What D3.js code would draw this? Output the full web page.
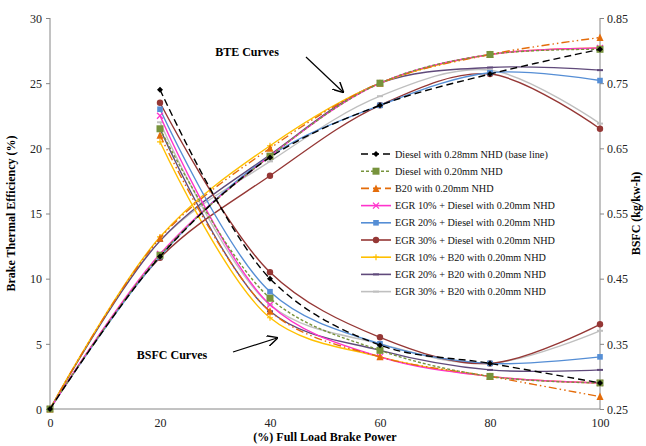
<!DOCTYPE html>
<html>
<head>
<meta charset="utf-8">
<script src="https://cdn.jsdelivr.net/npm/d3@7"></script>
<style>
  body { margin: 0; background: #fff; }
  svg text { font-family: "Times New Roman", "Liberation Serif", Tinos, Times, serif; }
  .axis path, .axis line { stroke: #868686; }
  .axis text { font-size: 12px; fill: #222; }
</style>
</head>
<body>
<svg width="646" height="446"></svg>
<script>
// load points (% full load)
var bteLoads = [0, 20, 40, 60, 80, 100];
var bsfcLoads = [20, 40, 60, 80, 100];

var seriesNames = [
  "Diesel with 0.28mm NHD (base line)",
  "Diesel with 0.20mm NHD",
  "B20 with 0.20mm NHD",
  "EGR 10% + Diesel with 0.20mm NHD",
  "EGR 20% + Diesel with 0.20mm NHD",
  "EGR 30% + Diesel with 0.20mm NHD",
  "EGR 10% + B20 with 0.20mm NHD",
  "EGR 20% + B20 with 0.20mm NHD",
  "EGR 30% + B20 with 0.20mm NHD"
];

// Brake thermal efficiency (%)
var bteDiesel028  = [0, 11.7, 19.3, 23.3, 25.7, 27.6];
var bteDiesel020  = [0, 11.8, 19.4, 25.0, 27.2, 27.6];
var bteB20        = [0, 13.1, 20.0, 25.0, 27.2, 28.5];
var bteEgr10D     = [0, 11.9, 19.4, 25.0, 27.2, 27.7];
var bteEgr20D     = [0, 11.7, 19.4, 23.3, 25.8, 25.2];
var bteEgr30D     = [0, 11.6, 17.9, 23.3, 25.7, 21.5];
var bteEgr10B     = [0, 13.2, 20.2, 25.0, 27.2, 27.7];
var bteEgr20B     = [0, 12.9, 19.5, 25.0, 26.2, 26.0];
var bteEgr30B     = [0, 12.9, 19.0, 24.0, 26.0, 21.9];

// BSFC (kg/kw-h)
var bsfcDiesel028 = [0.74, 0.45, 0.348, 0.32, 0.29];
var bsfcDiesel020 = [0.68, 0.42, 0.34, 0.30, 0.29];
var bsfcB20       = [0.67, 0.40, 0.33, 0.30, 0.269];
var bsfcEgr10D    = [0.70, 0.41, 0.33, 0.30, 0.29];
var bsfcEgr20D    = [0.71, 0.43, 0.35, 0.32, 0.33];
var bsfcEgr30D    = [0.72, 0.46, 0.36, 0.32, 0.38];
var bsfcEgr10B    = [0.66, 0.39, 0.33, 0.30, 0.29];
var bsfcEgr20B    = [0.68, 0.40, 0.34, 0.31, 0.31];
var bsfcEgr30B    = [0.69, 0.41, 0.35, 0.32, 0.37];

var xTicks = [0, 20, 40, 60, 80, 100];
var bteTicks = [0, 5, 10, 15, 20, 25, 30];
var bsfcTicks = [0.25, 0.35, 0.45, 0.55, 0.65, 0.75, 0.85];

var bteAll = [bteDiesel028, bteDiesel020, bteB20, bteEgr10D, bteEgr20D, bteEgr30D, bteEgr10B, bteEgr20B, bteEgr30B];
var bsfcAll = [bsfcDiesel028, bsfcDiesel020, bsfcB20, bsfcEgr10D, bsfcEgr20D, bsfcEgr30D, bsfcEgr10B, bsfcEgr20B, bsfcEgr30B];

var styles = [
  {color: "#000000", dash: "7,4",         legendDash: "7,4", marker: "diamond", size: 3},
  {color: "#77933C", dash: "3,2",         legendDash: "3,2", marker: "square",  size: 3.5},
  {color: "#E46C0A", dash: "8,3,1.5,3,1.5,3", legendDash: "8,4", marker: "triangle", size: 3.5},
  {color: "#FF33CC", dash: null, legendDash: null, marker: "x",      size: 3},
  {color: "#558ED5", dash: null, legendDash: null, marker: "square", size: 2.8},
  {color: "#953735", dash: null, legendDash: null, marker: "circle", size: 3.2},
  {color: "#FFC000", dash: null, legendDash: null, marker: "plus",   size: 3},
  {color: "#604A7B", dash: null, legendDash: null, marker: "dash",   size: 3},
  {color: "#BFBFBF", dash: null, legendDash: null, marker: "dash",   size: 3}
];

var svg = d3.select("svg"),
    margin = {top: 18, right: 46, bottom: 37, left: 50},
    width = +svg.attr("width") - margin.left - margin.right,
    height = +svg.attr("height") - margin.top - margin.bottom,
    g = svg.append("g").attr("transform", "translate(" + margin.left + "," + margin.top + ")");

var x = d3.scaleLinear().domain([0, 100]).range([0, width]);
var yL = d3.scaleLinear().domain([0, 30]).range([height, 0]);
var yR = d3.scaleLinear().domain([0.25, 0.85]).range([height, 0]);

// axes
var gx = g.append("g").attr("class", "axis")
    .attr("transform", "translate(0," + height + ")")
    .call(d3.axisBottom(x).tickValues(xTicks).tickSize(0).tickPadding(9));
var gl = g.append("g").attr("class", "axis")
    .call(d3.axisLeft(yL).tickValues(bteTicks).tickSize(4).tickPadding(4));
var gr = g.append("g").attr("class", "axis")
    .attr("transform", "translate(" + width + ",0)")
    .call(d3.axisRight(yR).tickValues(bsfcTicks).tickFormat(d3.format(".2f")).tickSize(4).tickPadding(3));
gl.select(".domain").attr("d", "M0,0V" + height);
gr.select(".domain").attr("d", "M0,0V" + height);
gx.select(".domain").attr("d", "M0,0H" + width);
svg.selectAll(".axis").attr("font-family", null);
gl.selectAll(".tick text").attr("dy", "0.35em");
gr.selectAll(".tick text").attr("dy", "0.35em");

// axis titles
svg.append("text")
    .attr("transform", "translate(15," + (margin.top + height / 2) + ") rotate(-90)")
    .attr("text-anchor", "middle")
    .style("font-size", "12px").style("font-weight", "bold")
    .text("Brake Thermal Efficiency (%)");
svg.append("text")
    .attr("transform", "translate(640," + (margin.top + height / 2) + ") rotate(-90)")
    .attr("text-anchor", "middle")
    .style("font-size", "12px").style("font-weight", "bold")
    .text("BSFC (kg/kw-h)");
svg.append("text")
    .attr("x", margin.left + width / 2).attr("y", 441)
    .attr("text-anchor", "middle")
    .style("font-size", "12px").style("font-weight", "bold")
    .text("(%) Full Load Brake Power");

function drawMarker(sel, st) {
  var s = st.size;
  var m;
  if (st.marker === "circle") {
    m = sel.append("circle").attr("r", s).attr("fill", st.color);
  } else if (st.marker === "square") {
    m = sel.append("rect").attr("x", -s).attr("y", -s).attr("width", 2 * s).attr("height", 2 * s).attr("fill", st.color);
  } else if (st.marker === "diamond") {
    m = sel.append("path").attr("d", "M0," + -s + "L" + s + ",0L0," + s + "L" + -s + ",0Z").attr("fill", st.color);
  } else if (st.marker === "triangle") {
    m = sel.append("path").attr("d", "M0," + (-s - 0.5) + "L" + s + "," + s + "L" + -s + "," + s + "Z").attr("fill", st.color);
  } else if (st.marker === "x") {
    m = sel.append("path").attr("d", "M" + -s + "," + -s + "L" + s + "," + s + "M" + s + "," + -s + "L" + -s + "," + s)
      .attr("stroke", st.color).attr("stroke-width", 1.3).attr("fill", "none");
  } else if (st.marker === "plus") {
    m = sel.append("path").attr("d", "M" + -s + ",0H" + s + "M0," + -s + "V" + s)
      .attr("stroke", st.color).attr("stroke-width", 1.2).attr("fill", "none");
  } else {
    m = sel.append("path").attr("d", "M" + -s + ",0H" + s)
      .attr("stroke", st.color).attr("stroke-width", 2).attr("fill", "none");
  }
  return m;
}

var curve = d3.curveCatmullRom.alpha(0.5);

var bteLine = d3.line()
    .x(function(d, i) { return x(bteLoads[i]); })
    .y(function(d) { return yL(d); })
    .curve(curve);
var bsfcLine = d3.line()
    .x(function(d, i) { return x(bsfcLoads[i]); })
    .y(function(d) { return yR(d); })
    .curve(curve);

var plot = g.append("g");

// draw in reverse order so the base line sits on top
for (var k = seriesNames.length - 1; k >= 0; k--) {
  var st = styles[k];
  [[bteAll[k], bteLine, bteLoads, yL], [bsfcAll[k], bsfcLine, bsfcLoads, yR]].forEach(function(cfg) {
    plot.append("path")
        .datum(cfg[0])
        .attr("d", cfg[1])
        .attr("fill", "none")
        .attr("stroke", st.color)
        .attr("stroke-width", 1.4)
        .attr("stroke-dasharray", st.dash);
    cfg[0].forEach(function(v, i) {
      var mg = plot.append("g").attr("transform", "translate(" + x(cfg[2][i]) + "," + cfg[3](v) + ")");
      drawMarker(mg, st);
    });
  });
}

// legend
var legend = svg.append("g").attr("transform", "translate(361,154)");
seriesNames.forEach(function(name, i) {
  var st = styles[i];
  var row = legend.append("g").attr("transform", "translate(0," + (i * 17.2) + ")");
  row.append("line").attr("x1", 0).attr("x2", 30).attr("y1", 0).attr("y2", 0)
      .attr("stroke", st.color).attr("stroke-width", 1.6)
      .attr("stroke-dasharray", st.legendDash);
  drawMarker(row.append("g").attr("transform", "translate(15,0)"), st);
  row.append("text").attr("x", 34).attr("y", 0).attr("dy", "0.35em")
      .style("font-size", "10.2px").attr("fill", "#111")
      .text(name);
});

// annotations
var defs = svg.append("defs");
defs.append("marker").attr("id", "arrow").attr("viewBox", "0 0 10 10")
    .attr("refX", 9).attr("refY", 5).attr("markerWidth", 9).attr("markerHeight", 9)
    .attr("orient", "auto")
  .append("path").attr("d", "M0,0L10,5L0,10").attr("fill", "none").attr("stroke", "#000").attr("stroke-width", 1.3);

svg.append("text").attr("x", 247).attr("y", 56).attr("text-anchor", "middle")
    .style("font-size", "12px").style("font-weight", "bold").text("BTE Curves");
svg.append("line").attr("x1", 306).attr("y1", 57).attr("x2", 343).attr("y2", 92)
    .attr("stroke", "#000").attr("stroke-width", 1.2).attr("marker-end", "url(#arrow)");

svg.append("text").attr("x", 172).attr("y", 359).attr("text-anchor", "middle")
    .style("font-size", "12px").style("font-weight", "bold").text("BSFC Curves");
svg.append("line").attr("x1", 233).attr("y1", 352).attr("x2", 277).attr("y2", 338)
    .attr("stroke", "#000").attr("stroke-width", 1.2).attr("marker-end", "url(#arrow)");
</script>
</body>
</html>
